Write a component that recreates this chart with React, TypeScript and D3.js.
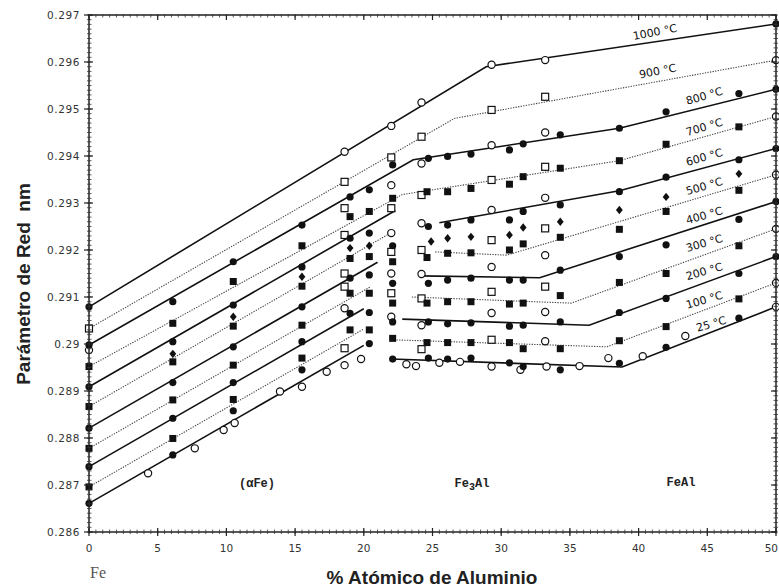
import React from "react";
import * as d3 from "d3";

// ---------- data ----------
const xTicks = [0, 5, 10, 15, 20, 25, 30, 35, 40, 45, 50];
const yTicks = [0.286, 0.287, 0.288, 0.289, 0.29, 0.291, 0.292, 0.293, 0.294, 0.295, 0.296, 0.297];
const yTickLabels = ["0.286", "0.287", "0.288", "0.289", "0.29", "0.291", "0.292", "0.293", "0.294", "0.295", "0.296", "0.297"];

const temperatures = ["1000", "900", "800", "700", "600", "500", "400", "300", "200", "100", "25"];
const dottedLine = [false, true, false, true, false, true, false, true, false, true, false];

// polylines per temperature: [% Al, lattice parameter nm]
const lines1000: [number, number][][] = [[[0, 0.29079], [28.9, 0.2959], [50, 0.29681]]];
const lines900: [number, number][][] = [[[0, 0.29033], [26.6, 0.2948], [50, 0.29604]]];
const lines800: [number, number][][] = [[[0, 0.28998], [23.6, 0.29392], [38.6, 0.29459], [50, 0.29542]]];
const lines700: [number, number][][] = [[[0, 0.28952], [22.8, 0.29318], [38.6, 0.2939], [50, 0.29484]]];
const lines600: [number, number][][] = [[[0, 0.28909], [22.3, 0.29284]], [[25.5, 0.29258], [38.6, 0.29326], [50, 0.29416]]];
const lines500: [number, number][][] = [[[0, 0.28867], [22.0, 0.29237]], [[25.2, 0.29196], [30.4, 0.29189], [50, 0.2936]]];
const lines400: [number, number][][] = [[[0, 0.28821], [21.0, 0.29174]], [[24.1, 0.29145], [32.8, 0.29141], [50, 0.29303]]];
const lines300: [number, number][][] = [[[0, 0.28778], [20.5, 0.29122]], [[23.5, 0.291], [35.1, 0.29087], [50, 0.29245]]];
const lines200: [number, number][][] = [[[0, 0.28739], [20.0, 0.29075]], [[22.8, 0.29053], [36.4, 0.2904], [50, 0.29186]]];
const lines100: [number, number][][] = [[[0, 0.28696], [20.0, 0.29032]], [[22.0, 0.29009], [37.7, 0.28994], [50, 0.2913]]];
const lines25: [number, number][][] = [[[0, 0.28661], [20.0, 0.28997]], [[22.0, 0.28968], [38.8, 0.28951], [50, 0.29079]]];
const allLines = [lines1000, lines900, lines800, lines700, lines600, lines500, lines400, lines300, lines200, lines100, lines25];

// label anchor (data coords) per temperature
const labelX = [41.2, 41.4, 44.8, 44.8, 44.8, 44.8, 44.8, 44.8, 44.8, 44.8, 45.3];
const labelY = [0.29662, 0.29579, 0.29526, 0.2946, 0.29396, 0.29334, 0.29272, 0.29213, 0.29153, 0.29092, 0.29041];

const filledCircles: [number, number][] = [
  [0, 0.29079], [0, 0.28998], [0, 0.28909], [0, 0.28821], [0, 0.28739], [0, 0.28661],
  [6.1, 0.2909], [6.1, 0.29005], [6.1, 0.28918], [6.1, 0.28842], [6.1, 0.28764],
  [10.5, 0.29175], [10.5, 0.29083], [10.5, 0.28994], [10.5, 0.28918], [10.5, 0.28858],
  [15.5, 0.29253], [15.5, 0.29164], [15.5, 0.29079], [15.5, 0.29005], [15.5, 0.28945],
  [19.0, 0.29313], [19.0, 0.29225], [19.0, 0.2914], [19.0, 0.29065],
  [20.4, 0.29328], [20.4, 0.29236], [20.4, 0.29147], [20.4, 0.29067], [20.4, 0.29001],
  [22.1, 0.29381], [22.1, 0.29209], [22.1, 0.29129], [22.1, 0.29047], [22.1, 0.28968],
  [24.7, 0.29395], [24.7, 0.2925], [24.7, 0.29129], [24.7, 0.29047], [24.7, 0.2897],
  [26.1, 0.29399], [26.1, 0.29253], [26.1, 0.29136], [26.1, 0.29043], [26.1, 0.28968],
  [27.8, 0.29404], [27.8, 0.29264], [27.8, 0.2914], [27.8, 0.29045], [27.8, 0.2897],
  [30.6, 0.29413], [30.6, 0.29264], [30.6, 0.29136], [30.6, 0.29038], [30.6, 0.2896],
  [31.6, 0.29426], [31.6, 0.29282], [31.6, 0.29136], [31.6, 0.2904], [31.6, 0.28952],
  [34.3, 0.29445], [34.3, 0.29296], [34.3, 0.29157], [34.3, 0.29047], [34.3, 0.28945],
  [38.6, 0.29459], [38.6, 0.29324], [38.6, 0.29186], [38.6, 0.29067], [38.6, 0.28959],
  [42.0, 0.29494], [42.0, 0.29355], [42.0, 0.29211], [42.0, 0.29097], [42.0, 0.28993],
  [47.3, 0.29533], [47.3, 0.29392], [47.3, 0.29265], [47.3, 0.2915], [47.3, 0.29055],
  [50, 0.29681], [50, 0.29542], [50, 0.29416], [50, 0.29303], [50, 0.29186],
];

const filledSquares: [number, number][] = [
  [0, 0.28952], [0, 0.28867], [0, 0.28778], [0, 0.28696],
  [6.1, 0.29044], [6.1, 0.28962], [6.1, 0.28881], [6.1, 0.28799],
  [10.5, 0.29133], [10.5, 0.29038], [10.5, 0.28955], [10.5, 0.28882],
  [15.5, 0.29209], [15.5, 0.29123], [15.5, 0.2904], [15.5, 0.2897],
  [19.0, 0.29271], [19.0, 0.29182], [19.0, 0.29108], [19.0, 0.2903],
  [20.4, 0.29282], [20.4, 0.29186], [20.4, 0.29108], [20.4, 0.2903],
  [22.1, 0.2931], [22.1, 0.29175], [22.1, 0.29087], [22.1, 0.29012],
  [24.6, 0.29324], [24.6, 0.29184], [24.6, 0.29087], [24.6, 0.29003],
  [26.1, 0.29324], [26.1, 0.29193], [26.1, 0.2909], [26.1, 0.29003],
  [27.8, 0.29331], [27.8, 0.29194], [27.8, 0.2909], [27.8, 0.29003],
  [30.6, 0.2934], [30.6, 0.292], [30.6, 0.29085], [30.6, 0.29003],
  [31.6, 0.29356], [31.6, 0.29213], [31.6, 0.29087], [31.6, 0.2899],
  [34.3, 0.29374], [34.3, 0.29227], [34.3, 0.29103], [34.3, 0.2899],
  [38.6, 0.2939], [38.6, 0.29244], [38.6, 0.29131], [38.6, 0.29007],
  [42.0, 0.29425], [42.0, 0.29282], [42.0, 0.2915], [42.0, 0.29037],
  [47.3, 0.29462], [47.3, 0.29327], [47.3, 0.29209], [47.3, 0.29096],
];

const diamonds: [number, number][] = [
  [6.1, 0.28979], [10.5, 0.29058], [15.5, 0.29143], [19.0, 0.29204], [20.4, 0.29209],
  [24.9, 0.29218], [26.1, 0.29225], [27.8, 0.29228], [30.6, 0.29232], [31.6, 0.29248],
  [34.3, 0.2926], [38.6, 0.29285], [42.0, 0.29313], [47.3, 0.29362],
];

const openCircles: [number, number][] = [
  [0, 0.28987],
  [4.3, 0.28725], [7.7, 0.28778], [9.8, 0.28817], [10.6, 0.28832], [13.9, 0.28899],
  [15.5, 0.28909], [17.3, 0.28941], [18.6, 0.28955], [19.8, 0.28968],
  [18.6, 0.29409], [18.6, 0.29076],
  [22.0, 0.29464], [22.0, 0.29338], [22.0, 0.29236], [22.0, 0.2915], [22.0, 0.29058],
  [24.2, 0.29514], [24.2, 0.29384], [24.2, 0.29257], [24.2, 0.29149], [24.2, 0.2904],
  [23.1, 0.28957], [23.8, 0.28953], [25.5, 0.2896], [27.0, 0.28962],
  [29.3, 0.29594], [29.3, 0.29423], [29.3, 0.29285], [29.3, 0.29164], [29.3, 0.29066], [29.3, 0.28952],
  [31.4, 0.28945],
  [33.2, 0.29604], [33.2, 0.2945], [33.2, 0.29311], [33.2, 0.29189], [33.2, 0.29068], [33.2, 0.29006], [33.3, 0.28952],
  [35.7, 0.28953], [37.8, 0.2897], [40.3, 0.28974], [43.4, 0.29017],
  [50, 0.29604], [50, 0.29484], [50, 0.2936], [50, 0.29245], [50, 0.2913], [50, 0.29079],
];

const openSquares: [number, number][] = [
  [0, 0.29033],
  [18.6, 0.29345], [18.6, 0.29289], [18.6, 0.29232], [18.6, 0.2915], [18.6, 0.29122], [18.6, 0.28991],
  [22.0, 0.29397], [22.0, 0.29289], [22.0, 0.29196], [22.0, 0.29108],
  [24.2, 0.29441], [24.2, 0.29317], [24.2, 0.292], [24.2, 0.29097], [24.2, 0.28989],
  [29.3, 0.29498], [29.3, 0.29349], [29.3, 0.29221], [29.3, 0.29111], [29.3, 0.29009],
  [33.2, 0.29526], [33.2, 0.29377], [33.2, 0.29246], [33.2, 0.29122],
];

// ---------- chart ----------
const W = 779;
const H = 588;
const PL = 89, PR = 776, PT = 15, PB = 532;

export default function App() {
  const x = d3.scaleLinear().domain([0, 50]).range([PL, PR]);
  const y = d3.scaleLinear().domain([0.286, 0.297]).range([PB, PT]);
  const line = d3.line<[number, number]>().x((d) => x(d[0])).y((d) => y(d[1]));

  const xMinor = d3.range(0, 50.001, 0.5);
  const yMinor = d3.range(0, 111).map((i) => 0.286 + i * 0.0001);

  const tickFont = "'DejaVu Sans', sans-serif";
  const phaseFont = "'Liberation Mono', 'DejaVu Sans Mono', monospace";
  const R = 3.6;
  const S = 7;

  return (
    <svg width={W} height={H} style={{ position: "absolute", left: 0, top: 0, background: "#fff" }}>
      <rect x={0} y={0} width={W} height={H} fill="#fff" />

      {/* lines */}
      {allLines.map((segs, i) =>
        segs.map((seg, j) => (
          <path
            key={`l${i}-${j}`}
            d={line(seg) || ""}
            fill="none"
            stroke={dottedLine[i] ? "#444" : "#111"}
            strokeWidth={dottedLine[i] ? 1.1 : 1.6}
            strokeDasharray={dottedLine[i] ? "1.3,1.3" : undefined}
          />
        ))
      )}

      {/* markers */}
      {openCircles.map((d, i) => (
        <circle key={`oc${i}`} cx={x(d[0])} cy={y(d[1])} r={R} fill="#fff" stroke="#111" strokeWidth={1.2} />
      ))}
      {openSquares.map((d, i) => (
        <rect key={`os${i}`} x={x(d[0]) - S / 2} y={y(d[1]) - S / 2} width={S} height={S} fill="#fff" stroke="#111" strokeWidth={1.2} />
      ))}
      {filledCircles.map((d, i) => (
        <circle key={`fc${i}`} cx={x(d[0])} cy={y(d[1])} r={R} fill="#111" />
      ))}
      {filledSquares.map((d, i) => (
        <rect key={`fs${i}`} x={x(d[0]) - S / 2} y={y(d[1]) - S / 2} width={S} height={S} fill="#111" />
      ))}
      {diamonds.map((d, i) => {
        const cx = x(d[0]);
        const cy = y(d[1]);
        return <polygon key={`dm${i}`} points={`${cx},${cy - 4.2} ${cx + 3.4},${cy} ${cx},${cy + 4.2} ${cx - 3.4},${cy}`} fill="#111" />;
      })}

      {/* frame */}
      <rect x={PL} y={PT} width={PR - PL} height={PB - PT} fill="none" stroke="#222" strokeWidth={1.5} />
      {xMinor.map((v, i) => (
        <g key={`xm${i}`}>
          <line x1={x(v)} x2={x(v)} y1={PB - 2.5} y2={PB + 2} stroke="#333" strokeWidth={0.8} />
          <line x1={x(v)} x2={x(v)} y1={PT - 1} y2={PT + 2.5} stroke="#333" strokeWidth={0.8} />
        </g>
      ))}
      {yMinor.map((v, i) => (
        <g key={`ym${i}`}>
          <line x1={PL - 2} x2={PL + 2.5} y1={y(v)} y2={y(v)} stroke="#333" strokeWidth={0.8} />
          <line x1={PR - 2.5} x2={PR + 2} y1={y(v)} y2={y(v)} stroke="#333" strokeWidth={0.8} />
        </g>
      ))}
      {xTicks.map((v, i) => {
        const last = i === xTicks.length - 1;
        return (
          <g key={`xt${i}`}>
            <line x1={x(v)} x2={x(v)} y1={PB - 4} y2={PB + 4} stroke="#222" strokeWidth={1.2} />
            <line x1={x(v)} x2={x(v)} y1={PT} y2={PT + 5} stroke="#222" strokeWidth={1.2} />
            <text
              x={last ? W - 1 : x(v)}
              y={552}
              textAnchor={last ? "end" : "middle"}
              fontFamily={tickFont}
              fontSize={10.5}
              fill="#333"
            >
              {v}
            </text>
          </g>
        );
      })}
      {yTicks.map((v, i) => (
        <g key={`yt${i}`}>
          <line x1={PL - 5} x2={PL + 4} y1={y(v)} y2={y(v)} stroke="#222" strokeWidth={1.2} />
          <line x1={PR - 5} x2={PR} y1={y(v)} y2={y(v)} stroke="#222" strokeWidth={1.2} />
          <text x={80} y={y(v) + 4} textAnchor="end" fontFamily={tickFont} fontSize={10.5} letterSpacing={0.6} fill="#333">
            {yTickLabels[i]}
          </text>
        </g>
      ))}

      {/* temperature labels */}
      {temperatures.map((t, i) => {
        const lx = x(labelX[i]);
        const ly = y(labelY[i]);
        const ang = i < 2 ? -11 : -16;
        return (
          <text
            key={`tl${i}`}
            x={lx}
            y={ly}
            textAnchor="middle"
            dominantBaseline="middle"
            transform={`rotate(${ang},${lx},${ly})`}
            fontFamily={tickFont}
            fontSize={11}
            fill="#111"
          >
            {t} °C
          </text>
        );
      })}

      {/* phase labels */}
      <text x={257} y={487} textAnchor="middle" fontFamily={phaseFont} fontWeight="bold" fontSize={12} fill="#222">
        (αFe)
      </text>
      <text x={472} y={487} textAnchor="middle" fontFamily={phaseFont} fontWeight="bold" fontSize={12} fill="#222">
        Fe<tspan baselineShift="-25%" fontSize={10}>3</tspan>Al
      </text>
      <text x={681} y={486} textAnchor="middle" fontFamily={phaseFont} fontWeight="bold" fontSize={12} fill="#222">
        FeAl
      </text>

      {/* axis titles */}
      <text x={90} y={578} fontFamily="'Liberation Serif', serif" fontSize={16} fill="#555">
        Fe
      </text>
      <text x={432} y={584} textAnchor="middle" fontFamily="'Liberation Sans', Arial, sans-serif" fontWeight="bold" fontSize={19} fill="#222">
        % Atómico de Aluminio
      </text>
      <text
        x={0}
        y={0}
        transform="translate(30,284) rotate(-90)"
        textAnchor="middle"
        fontFamily="'Liberation Sans', Arial, sans-serif"
        fontWeight="bold"
        fontSize={19}
        fill="#222"
      >
        Parámetro de Red{"\u00a0\u00a0"}nm
      </text>
    </svg>
  );
}
